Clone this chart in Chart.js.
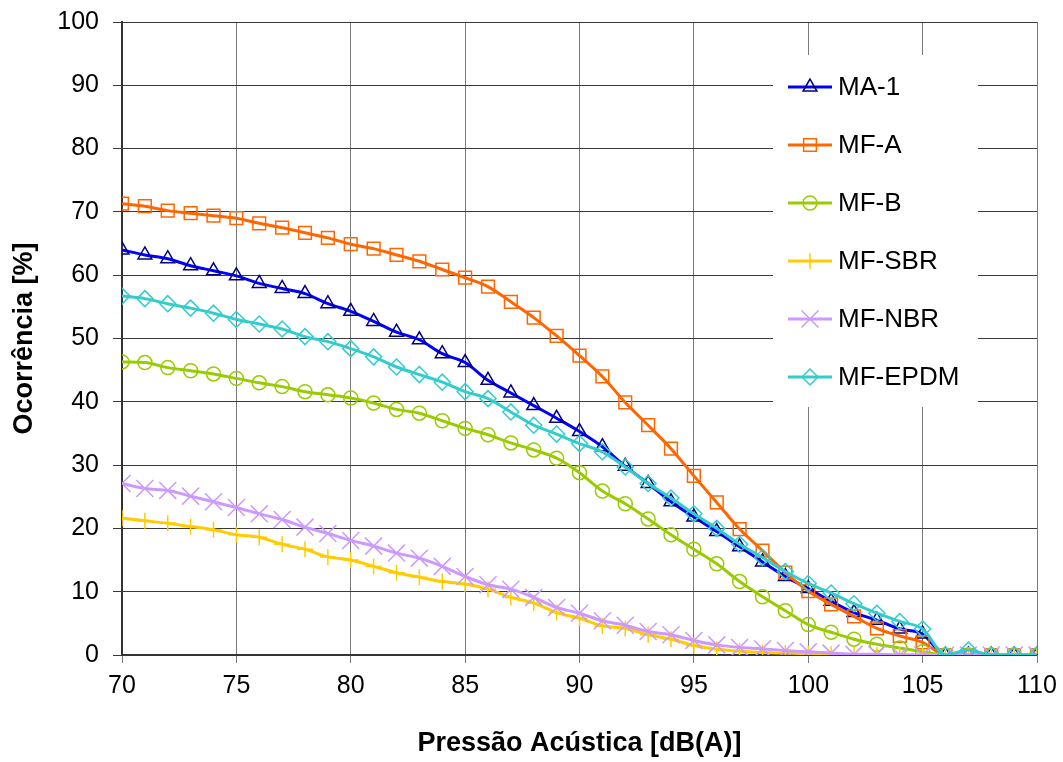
<!DOCTYPE html>
<html>
<head>
<meta charset="utf-8">
<script src="https://cdn.jsdelivr.net/npm/chart.js@4.4.1/dist/chart.umd.min.js"></script>
<style>
  html, body { margin: 0; padding: 0; background: #fff; }
  #wrap { width: 1063px; height: 762px; }
</style>
</head>
<body>
<div id="wrap"><canvas id="c" width="1063" height="762"></canvas></div>
<script>
// ---- Data ----
const pressures = [70,71,72,73,74,75,76,77,78,79,80,81,82,83,84,85,86,87,88,89,90,
                   91,92,93,94,95,96,97,98,99,100,101,102,103,104,105,106,107,108,109,110];

const seriesNames = ['MA-1', 'MF-A', 'MF-B', 'MF-SBR', 'MF-NBR', 'MF-EPDM'];

const ma1 = [64.0,63.2,62.6,61.5,60.7,59.9,58.7,57.9,57.1,55.5,54.3,52.7,51.0,49.8,47.6,46.2,43.4,41.4,39.4,37.4,35.3,
             32.9,29.8,27.1,24.2,21.8,19.5,17.1,14.7,12.4,10.5,8.5,6.7,5.5,4.1,3.3,0,0,0,0,0];
const mfA = [71.3,70.9,70.2,69.8,69.4,69.0,68.2,67.5,66.7,65.9,64.9,64.2,63.2,62.2,60.9,59.6,58.2,55.8,53.3,50.4,47.3,
             44.0,39.9,36.3,32.6,28.3,24.1,19.9,16.5,13.0,10.1,8.0,6.1,4.2,3.0,2.0,0,0,0,0,0];
const mfB = [46.3,46.2,45.4,44.9,44.4,43.7,43.0,42.4,41.6,41.1,40.6,39.8,38.8,38.2,37.0,35.8,34.8,33.5,32.4,31.1,28.8,
             25.9,23.9,21.5,19.0,16.7,14.4,11.6,9.2,7.0,4.8,3.6,2.5,1.7,1.1,0.5,0,0,0,0,0];
const mfSBR = [21.6,21.2,20.8,20.3,19.8,19.0,18.6,17.5,16.7,15.5,15.0,14.0,13.0,12.3,11.6,11.2,10.4,9.1,8.2,6.7,5.8,
               4.6,4.2,3.2,2.5,1.5,0.9,0.6,0.4,0.3,0.2,0.1,0,0,0,0,0,0,0,0,0];
const mfNBR = [27.1,26.3,26.0,25.1,24.2,23.3,22.3,21.4,20.2,19.2,18.1,17.2,16.1,15.3,14.0,12.4,11.1,10.4,9.1,7.5,6.6,
               5.4,4.7,3.7,3.2,2.3,1.6,1.2,1.0,0.7,0.5,0.3,0.1,0.1,0,0,0,0,0,0,0];
const mfEPDM = [56.7,56.3,55.5,54.8,54.0,53.0,52.3,51.5,50.3,49.5,48.4,47.1,45.5,44.3,43.1,41.6,40.5,38.4,36.3,34.9,33.4,
                32.1,29.7,27.1,24.8,22.3,20.0,17.5,15.4,13.2,11.3,9.8,8.1,6.6,5.3,4.1,0,0.8,0,0,0];

const xTitle = 'Pressão Acústica [dB(A)]';
const yTitle = 'Ocorrência [%]';

// ---- Styles ----
const styles = [
  { line: '#0000FF', marker: '#000080', pointStyle: 'triangle', radius: 8 },
  { line: '#FF6600', marker: '#FF6600', pointStyle: 'rect', radius: 9 },
  { line: '#99CC00', marker: '#99CC00', pointStyle: 'circle', radius: 7 },
  { line: '#FFCC00', marker: '#FFCC00', pointStyle: 'cross', radius: 8 },
  { line: '#CC99FF', marker: '#CC99FF', pointStyle: 'crossRot', radius: 12 },
  { line: '#33CCCC', marker: '#33CCCC', pointStyle: 'rectRot', radius: 8 }
];
const allValues = [ma1, mfA, mfB, mfSBR, mfNBR, mfEPDM];

const datasets = allValues.map((vals, i) => ({
  label: seriesNames[i],
  data: vals.map((v, j) => ({ x: pressures[j], y: v })),
  borderColor: styles[i].line,
  borderWidth: 3,
  pointStyle: styles[i].pointStyle,
  pointRadius: styles[i].radius,
  pointBorderColor: styles[i].marker,
  pointBackgroundColor: 'rgba(0,0,0,0)',
  pointBorderWidth: 1.5,
  cubicInterpolationMode: 'monotone',
  fill: false,
  order: 6 - i
}));

const FONT = "'Liberation Sans', Arial, sans-serif";

const legendPlugin = {
  id: 'boxLegend',
  afterDraw(chart) {
    const ctx = chart.ctx;
    const ca = chart.chartArea;
    const bx = ca.left + 651, by = ca.top + 33, bw = 205, bh = 352;
    ctx.save();
    ctx.fillStyle = '#ffffff';
    ctx.fillRect(bx, by, bw, bh);
    const rowY0 = by + 32, rowStep = 58;
    seriesNames.forEach((name, i) => {
      const y = rowY0 + i * rowStep;
      const x0 = bx + 15, x1 = bx + 59, xm = (x0 + x1) / 2;
      ctx.strokeStyle = styles[i].line;
      ctx.lineWidth = 3;
      ctx.beginPath(); ctx.moveTo(x0, y); ctx.lineTo(x1, y); ctx.stroke();
      const opts = { pointStyle: styles[i].pointStyle, radius: styles[i].radius, rotation: 0,
                     borderWidth: 1.5 };
      ctx.strokeStyle = styles[i].marker;
      ctx.fillStyle = 'rgba(0,0,0,0)';
      ctx.lineWidth = 1.5;
      if (Chart.helpers && Chart.helpers.drawPoint) {
        Chart.helpers.drawPoint(ctx, opts, xm, y);
      }
      ctx.fillStyle = '#000';
      ctx.font = '26px ' + FONT;
      ctx.textBaseline = 'middle';
      ctx.textAlign = 'left';
      ctx.fillText(name, x1 + 6, y + 1);
    });
    ctx.restore();
  }
};

new Chart(document.getElementById('c'), {
  type: 'line',
  data: { datasets },
  plugins: [legendPlugin],
  options: {
    responsive: false,
    animation: false,
    devicePixelRatio: 1,
    layout: { padding: { top: 22, right: 26, bottom: 0, left: 0 } },
    plugins: { legend: { display: false }, tooltip: { enabled: false } },
    scales: {
      x: {
        type: 'linear',
        min: 70, max: 110,
        ticks: { stepSize: 5, color: '#000', font: { family: FONT, size: 25 }, padding: 8, maxRotation: 0 },
        grid: { color: '#7a7a7a', lineWidth: 1, tickLength: 8, drawTicks: true },
        border: { color: '#333', width: 1.5 },
        title: { display: true, text: xTitle, color: '#000',
                 font: { family: FONT, size: 27, weight: 'bold' }, padding: { top: 0, bottom: 2 } },
        afterFit(s) { s.height = 107; s.paddingLeft = 0; s.paddingRight = 0; }
      },
      y: {
        min: 0, max: 100,
        ticks: { stepSize: 10, color: '#000', font: { family: FONT, size: 25 }, padding: 14 },
        grid: { color: '#3a3a3a', lineWidth: 1, tickLength: 9, drawTicks: true },
        border: { color: '#333', width: 2 },
        title: { display: true, text: yTitle, color: '#000',
                 font: { family: FONT, size: 27, weight: 'bold' }, padding: { top: 8, bottom: 0 } },
        afterFit(s) { s.width = 122; s.paddingTop = 0; s.paddingBottom = 0; }
      }
    }
  }
});
</script>
</body>
</html>
